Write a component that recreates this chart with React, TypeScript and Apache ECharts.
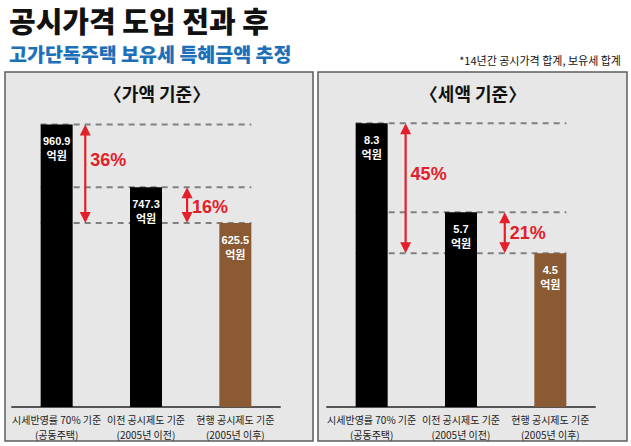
import React, { useEffect, useRef } from "react";
import * as echarts from "echarts";

// ---- data ----
const categories = [
  "시세반영률 70% 기준\n(공동주택)",
  "이전 공시제도 기준\n(2005년 이전)",
  "현행 공시제도 기준\n(2005년 이후)",
];
const valueAmounts = [960.9, 747.3, 625.5]; // 억원, 가액 기준
const taxAmounts = [8.3, 5.7, 4.5]; // 억원, 세액 기준
const valueGaps = ["36%", "16%"];
const taxGaps = ["45%", "21%"];
const unitLabel = "억원";
const titleText = "공시가격 도입 전과 후";
const subtitleText = "고가단독주택 보유세 특혜금액 추정";
const noteText = "*14년간 공시가격 합계, 보유세 합계";
const panelTitles = ["〈가액 기준〉", "〈세액 기준〉"];

// ---- style ----
const BAR_COLORS = ["#000000", "#000000", "#8a5a33"];
const RED = "#e3202a";
const BLUE = "#1c6fb8";
const PANEL_FILL = "#e7e7e7";
const PANEL_STROKE = "#5c5c5c";
const BAR_W = 32;
const KR = "'Noto Sans CJK KR', 'Noto Sans', sans-serif";
const NUM = "'Liberation Sans', Arial, 'Noto Sans CJK KR', sans-serif";

function makeSeries(values: number[], gaps: string[], axisIdx: number, arrowOffsets: number[], labelFracs: number[]) {
  const bar = {
    type: "bar",
    xAxisIndex: axisIdx,
    yAxisIndex: axisIdx,
    barWidth: BAR_W,
    z: 3,
    data: values.map((v, i) => ({ value: v, itemStyle: { color: BAR_COLORS[i] } })),
    label: {
      show: true,
      position: "insideTop",
      distance: 9,
      formatter: (p: any) => `${p.value}\n${unitLabel}`,
      color: "#ffffff",
      fontSize: 11,
      fontWeight: "bold",
      lineHeight: 15,
      fontFamily: NUM,
    },
  };
  const dashes = {
    type: "custom",
    xAxisIndex: axisIdx,
    yAxisIndex: axisIdx,
    z: 1,
    silent: true,
    data: values.map((v) => [0, v]),
    renderItem: (params: any, api: any) => {
      const v = api.value(1);
      const pL = api.coord([0, v]);
      const pR = api.coord([values.length - 1, v]);
      return {
        type: "line",
        shape: { x1: pL[0] - BAR_W / 2, y1: pL[1], x2: pR[0] + BAR_W / 2, y2: pR[1] },
        style: { stroke: "#808080", lineWidth: 2, lineDash: [6, 5] },
      };
    },
  };
  const arrows = {
    type: "custom",
    xAxisIndex: axisIdx,
    yAxisIndex: axisIdx,
    z: 4,
    silent: true,
    data: gaps.map((g, i) => [i, values[i], values[values.length - 1]]),
    renderItem: (params: any, api: any) => {
      const i = params.dataIndex;
      const cat = api.value(0);
      const pTop = api.coord([cat, api.value(1)]);
      const pBot = api.coord([cat, api.value(2)]);
      const band = api.size([1, 0])[0];
      const x = pTop[0] + arrowOffsets[i] * band;
      const y1 = pTop[1];
      const y2 = pBot[1];
      const hl = 11;
      const hw = 5.5;
      return {
        type: "group",
        children: [
          { type: "line", shape: { x1: x, y1: y1 + hl - 1, x2: x, y2: y2 - hl + 1 }, style: { stroke: RED, lineWidth: 2.2 } },
          { type: "polygon", shape: { points: [[x, y1], [x - hw, y1 + hl], [x + hw, y1 + hl]] }, style: { fill: RED } },
          { type: "polygon", shape: { points: [[x, y2], [x - hw, y2 - hl], [x + hw, y2 - hl]] }, style: { fill: RED } },
          {
            type: "text",
            x: x + 5,
            y: y1 + (y2 - y1) * labelFracs[i],
            style: {
              text: gaps[i],
              fill: RED,
              fontSize: 18,
              fontWeight: "bold",
              fontFamily: NUM,
              align: "left",
              verticalAlign: "middle",
            },
          },
        ],
      };
    },
  };
  return [dashes, bar, arrows];
}

export default function App() {
  const ref = useRef<HTMLDivElement>(null);
  useEffect(() => {
    document.body.style.margin = "0";
    const chart = echarts.init(ref.current!, null, { renderer: "svg" });
    const xAxisBase = {
      type: "category",
      data: categories,
      axisTick: { show: false },
      axisLine: { lineStyle: { color: "#555555", width: 2 } },
      axisLabel: {
        interval: 0,
        color: "#1a1a1a",
        fontSize: 10,
        lineHeight: 15,
        margin: 5,
        fontFamily: KR,
      },
    };
    chart.setOption({
      animation: false,
      backgroundColor: "#ffffff",
      grid: [
        { left: 12, width: 268, top: 113, height: 294 },
        { left: 327, width: 268, top: 113, height: 294 },
      ],
      xAxis: [
        { ...xAxisBase, gridIndex: 0 },
        { ...xAxisBase, gridIndex: 1 },
      ],
      yAxis: [
        { type: "value", gridIndex: 0, min: 0, max: 1000, show: false, splitLine: { show: false } },
        { type: "value", gridIndex: 1, min: 0, max: 8.6, show: false, splitLine: { show: false } },
      ],
      graphic: [
        { type: "rect", z: -10, shape: { x: 5, y: 72, width: 308, height: 369 }, style: { fill: PANEL_FILL, stroke: PANEL_STROKE, lineWidth: 1.5 } },
        { type: "rect", z: -10, shape: { x: 318, y: 72, width: 309, height: 369 }, style: { fill: PANEL_FILL, stroke: PANEL_STROKE, lineWidth: 1.5 } },
        {
          type: "text", x: 9, y: 20,
          style: { text: titleText, fill: "#111111", fontSize: 29, lineHeight: 30, fontWeight: 900, fontFamily: KR, verticalAlign: "middle" },
        },
        {
          type: "text", x: 9, y: 53,
          style: { text: subtitleText, fill: BLUE, fontSize: 19.5, lineHeight: 20, fontWeight: 900, fontFamily: KR, verticalAlign: "middle" },
        },
        {
          type: "text", x: 621, y: 60,
          style: { text: noteText, fill: "#111111", fontSize: 11, fontFamily: KR, align: "right", verticalAlign: "middle" },
        },
        {
          type: "text", x: 157, y: 93,
          style: { text: panelTitles[0], fill: "#111111", fontSize: 18, fontWeight: "bold", fontFamily: KR, align: "center", verticalAlign: "middle" },
        },
        {
          type: "text", x: 473, y: 93,
          style: { text: panelTitles[1], fill: "#111111", fontSize: 18, fontWeight: "bold", fontFamily: KR, align: "center", verticalAlign: "middle" },
        },
      ],
      series: [
        ...makeSeries(valueAmounts, valueGaps, 0, [0.32, 0.46], [0.36, 0.55]),
        ...makeSeries(taxAmounts, taxGaps, 1, [0.38, 0.49], [0.39, 0.5]),
      ],
    });
    return () => chart.dispose();
  }, []);
  return <div ref={ref} style={{ width: 631, height: 446 }} />;
}
